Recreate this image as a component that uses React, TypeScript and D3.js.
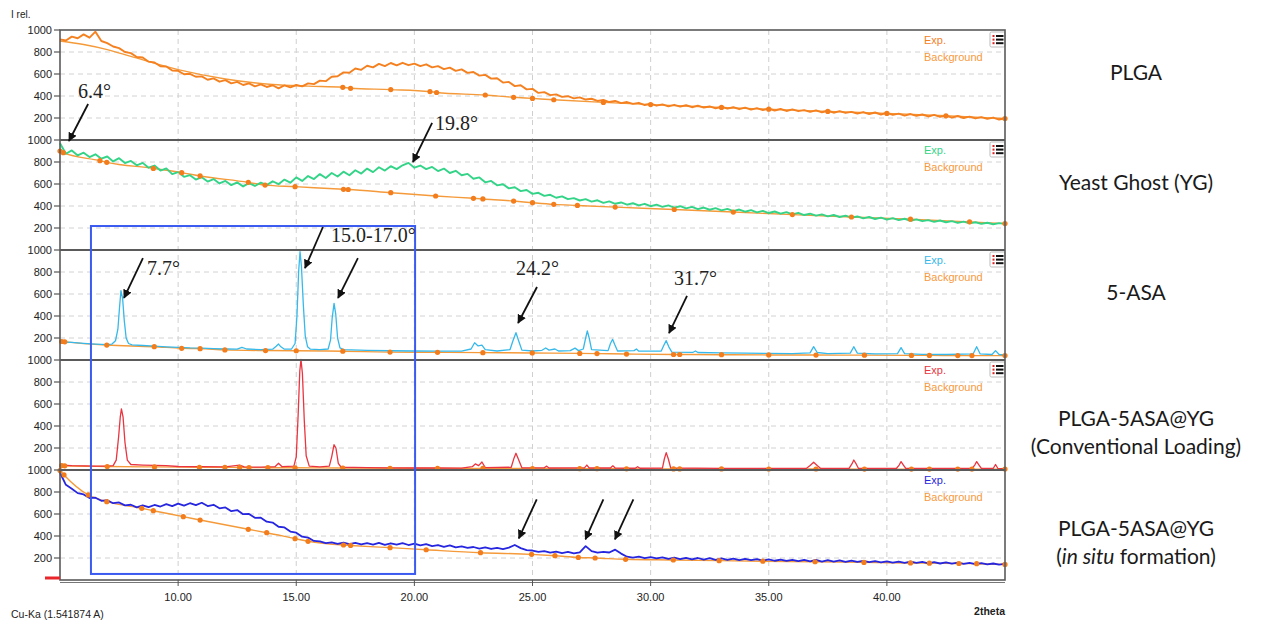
import { line, range, scaleLinear, curveMonotoneX } from 'd3'

type Pt = [number, number]

// scan grid for the noisy patterns (2theta, 0.25 deg step)
const scanGrid = range(5, 45.1, 0.25)

const plgaExp = [
  915, 905, 940, 925, 960, 930, 985, 900, 880, 850, 835, 800, 790, 755, 750, 712,
  705, 670, 668, 632, 628, 598, 602, 575, 578, 548, 560, 530, 545, 515, 528, 500,
  515, 488, 505, 482, 498, 470, 496, 478, 500, 488, 515, 508, 540, 535, 575, 580,
  615, 612, 650, 638, 675, 660, 692, 672, 700, 678, 702, 680, 695, 672, 688, 660,
  672, 645, 658, 628, 642, 610, 618, 585, 592, 558, 562, 522, 528, 490, 498, 460,
  465, 428, 435, 408, 415, 392, 398, 378, 388, 368, 375, 355, 365, 345, 355, 335,
  345, 328, 338, 318, 330, 312, 324, 306, 320, 304, 316, 298, 312, 295, 305, 288,
  302, 285, 298, 280, 294, 276, 290, 272, 286, 268, 282, 264, 278, 262, 272, 256,
  270, 252, 266, 248, 262, 246, 256, 240, 254, 236, 250, 232, 246, 228, 240, 222,
  236, 220, 232, 214, 228, 210, 222, 204, 218, 200, 212, 196, 208, 192, 204, 186,
  198,
]

const ygExp = [
  970, 875, 905, 860, 885, 845, 870, 830, 850, 805, 835, 790, 810, 770, 792, 748,
  768, 722, 742, 690, 708, 665, 680, 640, 662, 622, 645, 605, 628, 590, 615, 578,
  608, 582, 612, 590, 625, 598, 640, 612, 660, 628, 672, 645, 690, 655, 700, 668,
  712, 680, 725, 695, 740, 708, 752, 722, 762, 735, 770, 792, 748, 768, 735, 755,
  718, 740, 700, 720, 680, 692, 648, 660, 615, 628, 588, 598, 560, 570, 535, 545,
  510, 520, 492, 502, 475, 488, 462, 472, 450, 462, 440, 452, 428, 442, 420, 432,
  412, 425, 405, 420, 398, 412, 392, 405, 385, 398, 378, 392, 372, 386, 366, 380,
  360, 374, 354, 368, 348, 362, 342, 355, 336, 350, 330, 344, 324, 338, 318, 330,
  312, 324, 306, 318, 300, 312, 294, 305, 288, 300, 282, 294, 276, 290, 272, 284,
  266, 278, 262, 272, 256, 268, 252, 262, 246, 258, 242, 252, 238, 248, 234, 244,
  238,
]

const insituExp = [
  975, 865, 830, 790, 778, 745, 748, 720, 725, 698, 705, 678, 684, 660, 678, 662,
  682, 668, 690, 672, 695, 676, 698, 680, 702, 672, 684, 652, 660, 626, 636, 598,
  600, 565, 566, 530, 522, 484, 478, 440, 430, 394, 385, 355, 352, 335, 342, 328,
  340, 326, 338, 324, 336, 322, 338, 320, 334, 322, 336, 318, 330, 314, 326, 308,
  318, 302, 314, 296, 306, 292, 300, 286, 296, 282, 292, 280, 294, 318, 290, 272,
  268, 256, 262, 248, 258, 245, 255, 242, 252, 308, 262, 248, 255, 250, 276, 240,
  212, 204, 212, 198, 208, 196, 206, 192, 204, 190, 202, 188, 200, 186, 198, 184,
  196, 182, 194, 180, 192, 180, 190, 176, 188, 175, 186, 174, 184, 172, 184, 170,
  182, 168, 180, 168, 178, 165, 176, 164, 174, 162, 172, 160, 170, 158, 168, 156,
  166, 155, 164, 152, 162, 150, 160, 148, 158, 146, 156, 145, 154, 142, 150, 140,
  146,
]

const asaExp: Pt[] = [
  [5, 165], [5.5, 160], [6, 152], [6.5, 145], [7, 140], [7.2, 145], [7.35, 175], [7.45, 280],
  [7.52, 480], [7.58, 630], [7.65, 560], [7.72, 360], [7.8, 200], [7.9, 150], [8.05, 138],
  [8.5, 132], [9, 126], [9.5, 120], [10, 115], [10.5, 110], [11, 108], [11.5, 104], [12, 100],
  [12.5, 98], [12.7, 115], [12.9, 100], [13.5, 95], [14, 98], [14.15, 125], [14.25, 145],
  [14.35, 120], [14.5, 98], [14.8, 100], [14.95, 150], [15.03, 400], [15.1, 800], [15.16, 985],
  [15.22, 850], [15.3, 500], [15.38, 220], [15.48, 120], [15.6, 98], [16, 95], [16.35, 100],
  [16.45, 180], [16.52, 380], [16.6, 515], [16.67, 420], [16.75, 200], [16.85, 110], [17, 95],
  [18, 88], [19, 84], [20, 82], [21, 80], [22, 80], [22.4, 100], [22.55, 157], [22.7, 128],
  [22.86, 136], [23, 95], [23.5, 82], [24.05, 95], [24.18, 180], [24.3, 248], [24.42, 170],
  [24.55, 90], [25, 82], [25.4, 88], [25.56, 109], [25.7, 90], [25.95, 100], [26.1, 82],
  [26.6, 85], [26.8, 108], [26.95, 85], [27.15, 100], [27.25, 200], [27.32, 264], [27.4, 200],
  [27.5, 95], [28.2, 85], [28.3, 150], [28.39, 188], [28.48, 140], [28.6, 82], [29.3, 85],
  [29.4, 100], [29.5, 80], [30.45, 82], [30.55, 130], [30.66, 176], [30.77, 120], [30.9, 72],
  [31.8, 70], [31.9, 82], [32, 68], [33, 65], [34, 62], [35, 60], [36, 58], [36.75, 65],
  [36.9, 121], [37.05, 68], [37.5, 58], [38.45, 62], [38.6, 121], [38.75, 62], [39.5, 55],
  [40.45, 58], [40.6, 112], [40.75, 58], [41.5, 52], [42.5, 50], [43.65, 55], [43.8, 121],
  [43.95, 55], [44.45, 50], [44.6, 85], [44.75, 50], [45, 45],
]

const convExp: Pt[] = [
  [5, 45], [5.5, 40], [6, 38], [6.5, 36], [7, 35], [7.25, 40], [7.38, 90], [7.48, 300],
  [7.55, 480], [7.6, 555], [7.67, 480], [7.75, 250], [7.85, 90], [8, 50], [8.5, 45], [9, 42],
  [9.5, 40], [10, 32], [11, 30], [12, 28], [12.6, 45], [12.8, 28], [13.5, 26], [14.1, 30],
  [14.25, 62], [14.4, 30], [14.9, 35], [15, 120], [15.08, 500], [15.15, 900], [15.2, 1005],
  [15.26, 880], [15.34, 450], [15.42, 130], [15.55, 35], [16, 28], [16.4, 35], [16.5, 120],
  [16.6, 230], [16.68, 200], [16.78, 60], [16.9, 25], [18, 22], [19, 20], [20, 18], [21, 18],
  [22, 17], [22.45, 30], [22.58, 55], [22.72, 40], [22.86, 73], [23, 22], [24.1, 25],
  [24.22, 110], [24.3, 152], [24.4, 100], [24.55, 20], [25.5, 20], [25.6, 35], [25.7, 18],
  [27.2, 20], [27.3, 45], [27.4, 18], [28.3, 18], [28.4, 38], [28.5, 18], [29.35, 16],
  [29.45, 30], [29.55, 16], [30.5, 18], [30.58, 100], [30.66, 158], [30.75, 100], [30.85, 18],
  [33, 14], [35, 14], [36.6, 15], [36.75, 40], [36.9, 70], [37.05, 40], [37.2, 14], [38.4, 14],
  [38.52, 55], [38.6, 91], [38.7, 55], [38.8, 14], [40.4, 14], [40.52, 45], [40.6, 76],
  [40.7, 45], [40.8, 14], [43.6, 14], [43.72, 45], [43.8, 76], [43.9, 45], [44, 14], [44.5, 14],
  [44.6, 50], [44.7, 14], [45, 12],
]

// background knots (dots) per pattern
const plgaBg: Pt[] = [
  [5, 900], [6, 868], [7, 822], [8, 760], [10, 640], [12, 555], [14, 505], [15.5, 490],
  [16.97, 479], [17.3, 470], [19, 458], [20.66, 440], [20.94, 432], [23, 409], [24.2, 388],
  [25, 378], [25.9, 366], [28, 342], [30, 322], [33, 296], [35, 280], [37.5, 260], [40, 242],
  [42.5, 220], [45, 195],
]
const ygBg: Pt[] = [
  [5, 900], [5.14, 885], [6.69, 812], [6.98, 797], [8.95, 742], [10.15, 703], [10.93, 673],
  [12.97, 615], [13.68, 590], [14.95, 576], [17, 552], [17.2, 550], [19, 521], [20.9, 491],
  [22.5, 470], [22.9, 464], [24.2, 445], [25, 430], [25.9, 415], [26.9, 405], [28.5, 390],
  [31, 368], [33.5, 345], [36, 322], [38.5, 300], [41, 280], [43.5, 256], [45, 240],
]
const asaBg: Pt[] = [
  [5.07, 168], [5.2, 165], [6.98, 136], [8.99, 121], [10.15, 106], [10.93, 103], [11.98, 92],
  [13.7, 86], [15, 84], [16.97, 80], [18.97, 72], [20.98, 70], [22.9, 67], [24.99, 64],
  [27, 60], [27.73, 58], [28.98, 54], [30.97, 50], [31.23, 50], [33, 48], [35, 46], [37, 45],
  [39.05, 44], [41.04, 42], [41.8, 42], [43, 40], [43.6, 40], [45, 40],
]
const convBg: Pt[] = [
  [5.07, 40], [5.2, 38], [7, 32], [9, 28], [10.9, 25], [11.98, 24], [12.6, 23], [13, 22],
  [13.8, 21], [14.95, 20], [16.97, 18], [18.97, 16], [20.98, 15], [22.9, 14], [25, 13],
  [27, 12], [27.73, 12], [28.98, 11], [30.97, 10], [31.23, 10], [33, 10], [35, 9], [37, 9],
  [39.05, 8], [41.04, 8], [41.8, 8], [43, 8], [43.6, 8], [45, 8],
]
const insituBg: Pt[] = [
  [5, 995], [5.17, 955], [6.2, 773], [6.98, 712], [8.46, 652], [8.95, 630], [10.22, 576],
  [10.93, 545], [12.97, 461], [13.75, 430], [14.95, 376], [15.5, 352], [17, 318], [17.3, 314],
  [18.97, 294], [20.5, 275], [22.8, 248], [24.96, 233], [25.95, 221], [26.94, 205],
  [27.65, 200], [28.94, 188], [30.96, 182], [32.9, 176], [34.75, 171], [36.96, 166],
  [39.03, 160], [41, 155], [41.8, 153], [43.05, 150], [43.8, 148], [45, 142],
]
// knots before this angle are hidden under the PLGA trace, so no dots there
const bgDotsFrom = [16.5, 5, 5, 5, 5]

const sampleNames = [
  ['PLGA'],
  ['Yeast Ghost (YG)'],
  ['5-ASA'],
  ['PLGA-5ASA@YG', '(Conventional Loading)'],
  ['PLGA-5ASA@YG', 'in situ'],
]
const expColors = ['#f5801f', '#33d488', '#36b9ea', '#ea3540', '#2626e0']
const expWidths = [1.9, 1.9, 1.3, 1.3, 1.8]
const yTicks = [200, 400, 600, 800, 1000]
const xTicks = [10, 15, 20, 25, 30, 35, 40]

// annotation arrows, in 2theta and stacked intensity units (5 panels x 1000)
const annotations: { text?: string; tx?: number; ty?: number; arrows: [number, number, number, number][] }[] = [
  { text: '6.4°', tx: 5.76, ty: 4382, arrows: [[6.19, 4327, 5.38, 3991]] },
  { text: '19.8°', tx: 20.87, ty: 4091, arrows: [[20.75, 4155, 19.94, 3800]] },
  { text: '7.7°', tx: 8.68, ty: 2773, arrows: [[8.51, 2927, 7.71, 2564]] },
  { text: '15.0-17.0°', tx: 16.47, ty: 3073, arrows: [[16.13, 3209, 15.37, 2836], [17.61, 2927, 16.77, 2564]] },
  { text: '24.2°', tx: 24.3, ty: 2773, arrows: [[25.19, 2664, 24.39, 2336]] },
  { text: '31.7°', tx: 30.99, ty: 2682, arrows: [[31.54, 2582, 30.78, 2245]] },
  { arrows: [[25.18, 734, 24.42, 379], [28.0, 734, 27.24, 370], [29.27, 734, 28.49, 370]] },
]
const highlightBox = { x0: 6.31, x1: 20.03, y0: 55, y1: 3218 }

export default function App() {
  const width = 1261
  const height = 624
  const left = 60
  const right = 1005
  const top = 30
  const bottom = 580
  const x = scaleLinear().domain([5, 45]).range([left, right])
  const yAll = scaleLinear().domain([0, 5000]).range([bottom, top])
  const py = (panel: number, v: number) => yAll(v + (4 - panel) * 1000)
  const panelTop = (panel: number) => py(panel, 1000)

  const scanPts = (vals: number[]): Pt[] => vals.map((v, i) => [scanGrid[i], v])
  const exps: Pt[][] = [scanPts(plgaExp), scanPts(ygExp), asaExp, convExp, scanPts(insituExp)]
  const bgs = [plgaBg, ygBg, asaBg, convBg, insituBg]

  const sans = '"Liberation Sans", Arial, sans-serif'
  const serif = '"Liberation Serif", "Times New Roman", serif'

  return (
    <svg width={width} height={height} style={{ position: 'absolute', left: 0, top: 0, background: '#fff' }} fontFamily={sans}>
      <defs>
        <marker id="ah" viewBox="0 0 10 10" refX="9" refY="5" markerWidth="5" markerHeight="5" orient="auto">
          <path d="M0,0 L10,5 L0,10 z" fill="#111" />
        </marker>
      </defs>
      <rect width={width} height={height} fill="#fff" />

      {/* grid */}
      {xTicks.map((t) => (
        <line key={t} x1={x(t)} x2={x(t)} y1={top} y2={bottom} stroke="#cfcfcf" strokeDasharray="5 4" />
      ))}
      {[0, 1, 2, 3, 4].map((p) =>
        yTicks.slice(0, 4).map((t) => (
          <line key={`${p}-${t}`} x1={left} x2={right} y1={py(p, t)} y2={py(p, t)} stroke="#d2d2d2" strokeDasharray="5 4" />
        )),
      )}

      {/* patterns */}
      {[0, 1, 2, 3, 4].map((p) => {
        const lineExp = line<Pt>()
          .x((d) => x(d[0]))
          .y((d) => py(p, d[1]))
        const lineBg = line<Pt>()
          .x((d) => x(d[0]))
          .y((d) => py(p, d[1]))
          .curve(curveMonotoneX)
        const tp = panelTop(p)
        return (
          <g key={p}>
            <path d={lineBg(bgs[p]) ?? ''} fill="none" stroke="#f59a3a" strokeWidth={1.4} />
            <path d={lineExp(exps[p]) ?? ''} fill="none" stroke={expColors[p]} strokeWidth={expWidths[p]} strokeLinejoin="round" />
            {bgs[p].filter((d) => d[0] >= bgDotsFrom[p]).map((d, i) => (
              <circle key={i} cx={x(d[0])} cy={py(p, d[1])} r={2.6} fill="#f37d1c" />
            ))}
            <text x={924} y={tp + 14} fontSize={11} fill={expColors[p]}>Exp.</text>
            <text x={924} y={tp + 31} fontSize={11} fill="#f7993e">Background</text>
            {p < 4 && (
              <g>
                <rect x={990} y={tp + 2} width={15} height={15} fill="#fff" stroke="#bbb" rx={1.5} />
                {[0, 1, 2].map((r) => (
                  <g key={r}>
                    <rect x={992.5} y={tp + 5 + r * 3.6} width={2} height={2} fill="#e02020" />
                    <rect x={996} y={tp + 5 + r * 3.6} width={7.5} height={2} fill="#111" />
                  </g>
                ))}
              </g>
            )}
          </g>
        )
      })}

      {/* frame and panel separators */}
      {[1, 2, 3, 4].map((p) => (
        <line key={p} x1={left} x2={right} y1={panelTop(p)} y2={panelTop(p)} stroke="#5a5a5a" strokeWidth={1.8} />
      ))}
      <rect x={left} y={top} width={right - left} height={bottom - top} fill="none" stroke="#5a5a5a" strokeWidth={1.6} />
      <line x1={left} x2={right} y1={bottom + 2.5} y2={bottom + 2.5} stroke="#777" strokeWidth={1} />
      <line x1={45} x2={left} y1={bottom - 2} y2={bottom - 2} stroke="#e8262c" strokeWidth={3} />

      {/* y axis */}
      {[0, 1, 2, 3, 4].map((p) =>
        yTicks.map((t) => (
          <g key={`${p}-${t}`}>
            <line x1={left - 6} x2={left} y1={py(p, t)} y2={py(p, t)} stroke="#555" strokeWidth={1.2} />
            <text x={left - 8} y={py(p, t) + 4} textAnchor="end" fontSize={11} fill="#222">{t}</text>
          </g>
        )),
      )}
      <text x={11} y={18} fontSize={10} fill="#222">I rel.</text>

      {/* x axis */}
      {xTicks.map((t) => (
        <g key={t}>
          <line x1={x(t)} x2={x(t)} y1={bottom} y2={bottom + 6} stroke="#555" />
          <text x={x(t)} y={601} textAnchor="middle" fontSize={11} fill="#222">{t.toFixed(2)}</text>
        </g>
      ))}
      <text x={11} y={618} fontSize={10.5} fill="#222">Cu-Ka (1.541874 A)</text>
      <text x={right} y={615} textAnchor="end" fontSize={10.5} fontWeight="bold" fill="#222">2theta</text>

      {/* highlight box */}
      <rect
        x={x(highlightBox.x0)}
        y={yAll(highlightBox.y1)}
        width={x(highlightBox.x1) - x(highlightBox.x0)}
        height={yAll(highlightBox.y0) - yAll(highlightBox.y1)}
        fill="none"
        stroke="#3a5af0"
        strokeWidth={2}
      />

      {/* annotations */}
      {annotations.map((a, i) => (
        <g key={i}>
          {a.text && (
            <text x={x(a.tx!)} y={yAll(a.ty!)} fontFamily={serif} fontSize={20} fill="#222">{a.text}</text>
          )}
          {a.arrows.map((r, j) => (
            <line key={j} x1={x(r[0])} y1={yAll(r[1])} x2={x(r[2])} y2={yAll(r[3])} stroke="#111" strokeWidth={1.8} markerEnd="url(#ah)" />
          ))}
        </g>
      ))}

      {/* sample labels */}
      {sampleNames.map((names, p) => {
        const cy = panelTop(p) + (p < 3 ? 50 : 46)
        const lab = { fontFamily: 'Lato, "Open Sans", sans-serif', fontSize: 21, fill: '#1a1a1a', textAnchor: 'middle' as const }
        if (p === 4) {
          return (
            <g key={p}>
              <text x={1136} y={cy + 20} {...lab}>{names[0]}</text>
              <text x={1136} y={cy + 48} {...lab}>
                (<tspan fontStyle="italic">{names[1]}</tspan> formation)
              </text>
            </g>
          )
        }
        return (
          <g key={p}>
            {names.map((n, k) => (
              <text key={k} x={1136} y={cy + (names.length > 1 ? k * 28 + 20 : 0)} {...lab}>{n}</text>
            ))}
          </g>
        )
      })}
    </svg>
  )
}
